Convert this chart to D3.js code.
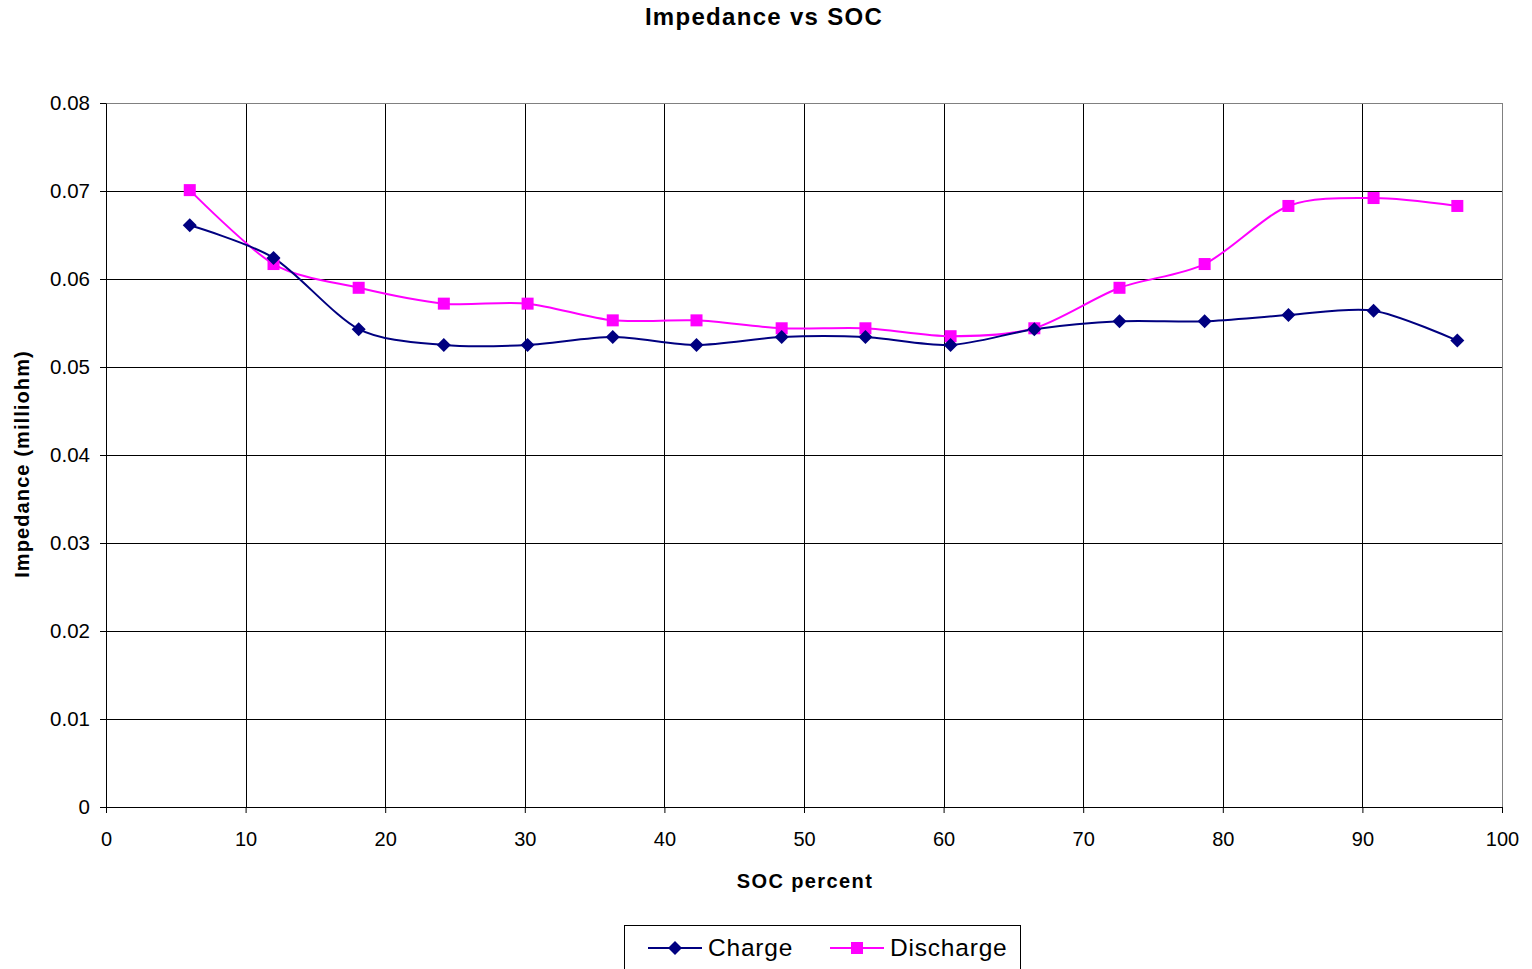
<!DOCTYPE html>
<html><head><meta charset="utf-8">
<script src="https://cdn.jsdelivr.net/npm/d3@7"></script>
<style>body{margin:0;background:#fff;}svg{display:block;font-family:"Liberation Sans",Arial,sans-serif;}</style>
</head><body>
<svg id="c" width="1532" height="969"></svg>
<script>
const soc = [6.0, 12.0, 18.1, 24.2, 30.2, 36.3, 42.3, 48.4, 54.4, 60.5, 66.5, 72.6, 78.7, 84.7, 90.8, 96.8];
const charge = [0.0661, 0.0624, 0.0543, 0.0525, 0.0525, 0.0534, 0.0525, 0.0534, 0.0534, 0.0525, 0.0543, 0.0552, 0.0552, 0.0559, 0.0564, 0.0530];
const discharge = [0.0701, 0.0617, 0.0590, 0.0572, 0.0572, 0.0553, 0.0553, 0.0544, 0.0544, 0.0535, 0.0544, 0.0590, 0.0617, 0.0683, 0.0692, 0.0683];
const xTicks = [0,10,20,30,40,50,60,70,80,90,100];
const yTicks = [0,0.01,0.02,0.03,0.04,0.05,0.06,0.07,0.08];
const seriesNames = ["Charge","Discharge"];

const svg = d3.select("#c");
const L=106, R=1502, T=103, B=807;
const x = d3.scaleLinear().domain([0,100]).range([L,R]);
const y = d3.scaleLinear().domain([0,0.08]).range([B,T]);

// gridlines
svg.append("g").selectAll("line").data(yTicks.filter(d=>d>0 && d<0.08)).join("line")
  .attr("x1",L).attr("x2",R).attr("y1",d=>Math.round(y(d))+0.5).attr("y2",d=>Math.round(y(d))+0.5)
  .attr("stroke","#000").attr("stroke-width",1);
svg.append("g").selectAll("line").data(xTicks.filter(d=>d>0 && d<100)).join("line")
  .attr("y1",T).attr("y2",B).attr("x1",d=>Math.round(x(d))+0.5).attr("x2",d=>Math.round(x(d))+0.5)
  .attr("stroke","#000").attr("stroke-width",1);
// plot border top/right grey
svg.append("line").attr("x1",L).attr("x2",R).attr("y1",T+0.5).attr("y2",T+0.5).attr("stroke","#808080");
svg.append("line").attr("x1",R+0.5).attr("x2",R+0.5).attr("y1",T).attr("y2",B).attr("stroke","#808080");

// axes
const xAxis = d3.axisBottom(x).tickValues(xTicks).tickSize(6).tickSizeOuter(0).tickFormat(d3.format("d"));
const gx = svg.append("g").attr("transform",`translate(0,${B})`).call(xAxis);
gx.select(".domain").attr("stroke","#000");
gx.selectAll(".tick line").attr("stroke","#000");
gx.selectAll("text").attr("font-size",20).attr("fill","#000").attr("y",20).attr("dy","0.95em");

const yAxis = d3.axisLeft(y).tickValues(yTicks).tickSize(6).tickSizeOuter(0).tickFormat(d=>d===0?"0":d3.format(".2f")(d));
const gy = svg.append("g").attr("transform",`translate(${L},0)`).call(yAxis);
gy.select(".domain").attr("stroke","#000");
gy.selectAll(".tick line").attr("stroke","#000");
gy.selectAll("text").attr("font-size",20.5).attr("fill","#000").attr("x",-16).attr("dy","0.3em");

// lines
const line = d3.line().x(d=>x(d[0])).y(d=>y(d[1])).curve(d3.curveCardinal.tension(0.15));
const cData = soc.map((s,i)=>[s,charge[i]]);
const dData = soc.map((s,i)=>[s,discharge[i]]);
svg.append("path").attr("d",line(dData)).attr("fill","none").attr("stroke","#FF00FF").attr("stroke-width",2);
svg.append("path").attr("d",line(cData)).attr("fill","none").attr("stroke","#000080").attr("stroke-width",2);

svg.append("g").selectAll("rect").data(dData).join("rect")
  .attr("x",d=>x(d[0])-6).attr("y",d=>y(d[1])-6).attr("width",12).attr("height",12).attr("fill","#FF00FF");
svg.append("g").selectAll("path").data(cData).join("path")
  .attr("d",d=>{const cx=x(d[0]),cy=y(d[1]),s=7;return `M${cx},${cy-s}L${cx+s},${cy}L${cx},${cy+s}L${cx-s},${cy}Z`;})
  .attr("fill","#000080");

// title & axis labels
svg.append("text").attr("x",764).attr("y",25).attr("text-anchor","middle").attr("font-size",24).attr("font-weight","bold").attr("letter-spacing",1.3).text("Impedance vs SOC");
svg.append("text").attr("x",805).attr("y",888).attr("text-anchor","middle").attr("font-size",20).attr("font-weight","bold").attr("letter-spacing",1.4).text("SOC percent");
svg.append("text").attr("transform","translate(29,464) rotate(-90)").attr("text-anchor","middle").attr("font-size",20).attr("font-weight","bold").attr("letter-spacing",1.1).text("Impedance (milliohm)");

// legend
const lg = svg.append("g");
lg.append("rect").attr("x",624.5).attr("y",925.5).attr("width",396).attr("height",60).attr("fill","#fff").attr("stroke","#000");
const items=[{n:seriesNames[0],c:"#000080",t:"d",x0:648},{n:seriesNames[1],c:"#FF00FF",t:"s",x0:830}];
items.forEach(it=>{
  const cy=948;
  lg.append("line").attr("x1",it.x0).attr("x2",it.x0+54).attr("y1",cy).attr("y2",cy).attr("stroke",it.c).attr("stroke-width",2);
  const cx=it.x0+27;
  if(it.t==="d") lg.append("path").attr("d",`M${cx},${cy-7}L${cx+7},${cy}L${cx},${cy+7}L${cx-7},${cy}Z`).attr("fill",it.c);
  else lg.append("rect").attr("x",cx-6).attr("y",cy-6).attr("width",12).attr("height",12).attr("fill",it.c);
  lg.append("text").attr("x",it.x0+60).attr("y",cy+8).attr("font-size",24.5).attr("letter-spacing",0.8).text(it.n);
});
</script>
</body></html>
